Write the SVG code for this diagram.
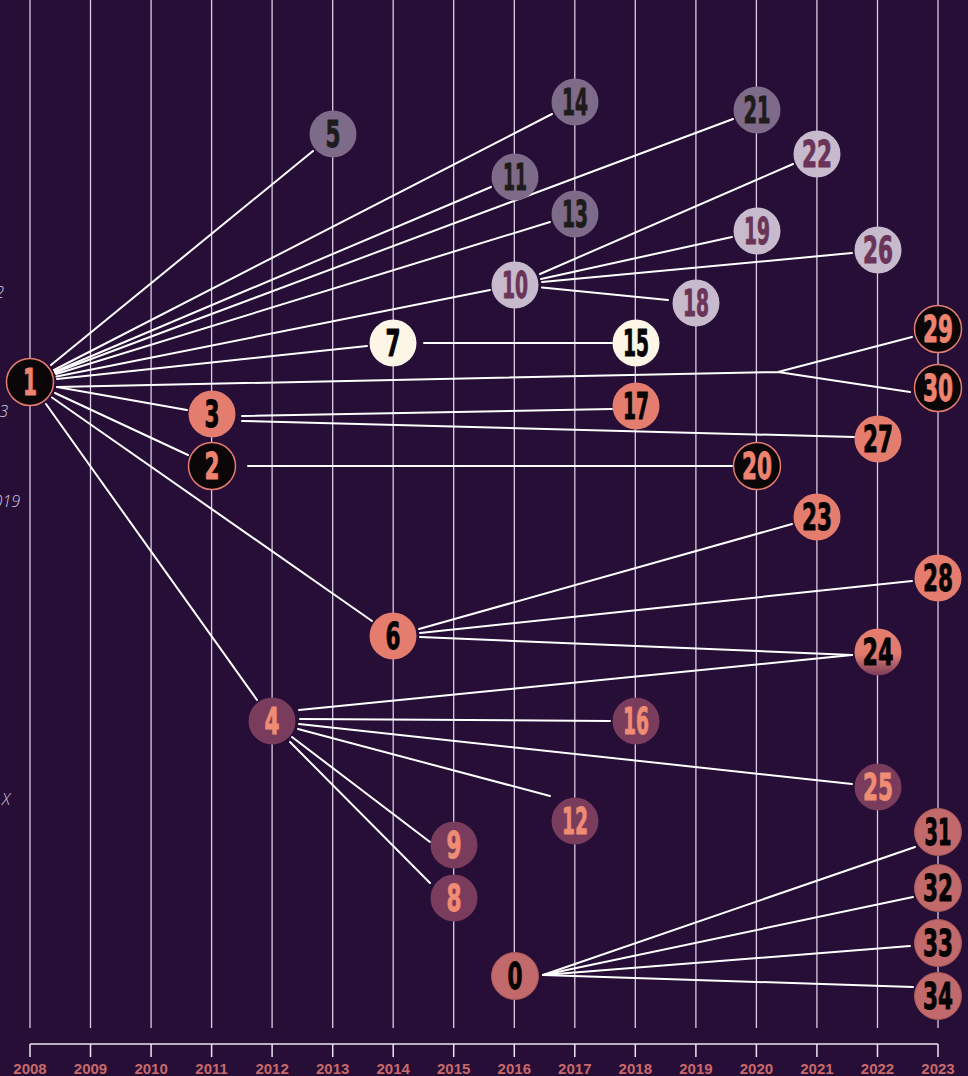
<svg xmlns="http://www.w3.org/2000/svg" width="968" height="1076" viewBox="0 0 968 1076">
<defs>
<linearGradient id="g24" x1="0" y1="0" x2="0" y2="1">
<stop offset="0" stop-color="#e57d6f"/>
<stop offset="0.55" stop-color="#e07a6d"/>
<stop offset="1" stop-color="#7a3c5c"/>
</linearGradient>
<style>
.grid line{stroke:#d9cde2;stroke-width:1.3}
.axis line{stroke:#ece4f0;stroke-width:1.5}
.axis text{fill:#c9696a;font-family:"Liberation Sans",Arial,sans-serif;font-weight:bold;font-size:15px;text-anchor:middle}
.side text{fill:#d6cade;font-family:"Open Sans","Liberation Sans",sans-serif;font-style:italic;font-weight:300;font-size:16px;text-anchor:end}
.edges path,.edges line{stroke:#ffffff;stroke-width:2;fill:none;stroke-linecap:round}
.node text{font-family:"DejaVu Sans Condensed","DejaVu Sans","Liberation Sans",sans-serif;font-weight:bold;font-size:37px;text-anchor:middle;stroke-width:0.9;stroke-linejoin:round}
.k circle{fill:#0b0708;stroke:#e57c6e;stroke-width:1.5}
.k text{fill:#ee8370;stroke:#ee8370}
.s circle{fill:#e57d6f}
.s text{fill:#050303;stroke:#050303}
.p circle{fill:#7a3c5c}
.p text{fill:#f08c74;stroke:#f08c74}
.g circle{fill:#7e6a89}
.g text{fill:#1e1b1b;stroke:#1e1b1b}
.l circle{fill:#c8bacd}
.l text{fill:#6a3358;stroke:#6a3358}
.c circle{fill:#fdf6e7}
.c text{fill:#050303;stroke:#050303}
.d circle{fill:#c1696b;stroke:#a85658;stroke-width:1}
.d text{fill:#050303;stroke:#050303}
</style>
</defs>
<rect width="968" height="1076" fill="#260e37"/>
<g class="grid">
<line x1="30" y1="0" x2="30" y2="1028"/>
<line x1="90.5" y1="0" x2="90.5" y2="1028"/>
<line x1="151.1" y1="0" x2="151.1" y2="1028"/>
<line x1="211.6" y1="0" x2="211.6" y2="1028"/>
<line x1="272.1" y1="0" x2="272.1" y2="1028"/>
<line x1="332.7" y1="0" x2="332.7" y2="1028"/>
<line x1="393.2" y1="0" x2="393.2" y2="1028"/>
<line x1="453.7" y1="0" x2="453.7" y2="1028"/>
<line x1="514.3" y1="0" x2="514.3" y2="1028"/>
<line x1="574.8" y1="0" x2="574.8" y2="1028"/>
<line x1="635.3" y1="0" x2="635.3" y2="1028"/>
<line x1="695.9" y1="0" x2="695.9" y2="1028"/>
<line x1="756.4" y1="0" x2="756.4" y2="1028"/>
<line x1="816.9" y1="0" x2="816.9" y2="1028"/>
<line x1="877.5" y1="0" x2="877.5" y2="1028"/>
<line x1="938" y1="0" x2="938" y2="1028"/>
</g>
<g class="axis">
<line x1="30" y1="1044" x2="938" y2="1044"/>
<line x1="30" y1="1044" x2="30" y2="1057"/>
<line x1="90.5" y1="1044" x2="90.5" y2="1057"/>
<line x1="151.1" y1="1044" x2="151.1" y2="1057"/>
<line x1="211.6" y1="1044" x2="211.6" y2="1057"/>
<line x1="272.1" y1="1044" x2="272.1" y2="1057"/>
<line x1="332.7" y1="1044" x2="332.7" y2="1057"/>
<line x1="393.2" y1="1044" x2="393.2" y2="1057"/>
<line x1="453.7" y1="1044" x2="453.7" y2="1057"/>
<line x1="514.3" y1="1044" x2="514.3" y2="1057"/>
<line x1="574.8" y1="1044" x2="574.8" y2="1057"/>
<line x1="635.3" y1="1044" x2="635.3" y2="1057"/>
<line x1="695.9" y1="1044" x2="695.9" y2="1057"/>
<line x1="756.4" y1="1044" x2="756.4" y2="1057"/>
<line x1="816.9" y1="1044" x2="816.9" y2="1057"/>
<line x1="877.5" y1="1044" x2="877.5" y2="1057"/>
<line x1="938" y1="1044" x2="938" y2="1057"/>
<text x="30" y="1074">2008</text>
<text x="90.5" y="1074">2009</text>
<text x="151.1" y="1074">2010</text>
<text x="211.6" y="1074">2011</text>
<text x="272.1" y="1074">2012</text>
<text x="332.7" y="1074">2013</text>
<text x="393.2" y="1074">2014</text>
<text x="453.7" y="1074">2015</text>
<text x="514.3" y="1074">2016</text>
<text x="574.8" y="1074">2017</text>
<text x="635.3" y="1074">2018</text>
<text x="695.9" y="1074">2019</text>
<text x="756.4" y="1074">2020</text>
<text x="816.9" y="1074">2021</text>
<text x="877.5" y="1074">2022</text>
<text x="938" y="1074">2023</text>
</g>
<g class="side">
<text x="4" y="298">2</text>
<text x="8" y="417">3</text>
<text x="20" y="507">019</text>
<text x="10" y="805">X</text>
</g>
<g class="edges">
<line x1="51" y1="365" x2="313" y2="151"/>
<line x1="54" y1="370" x2="552" y2="114"/>
<line x1="55" y1="371.5" x2="491" y2="187"/>
<line x1="55" y1="372.5" x2="733" y2="119"/>
<line x1="56" y1="374" x2="550" y2="222"/>
<line x1="56.5" y1="376.5" x2="490" y2="290"/>
<line x1="57" y1="379" x2="367" y2="346"/>
<path d="M57 387 L778 372 L912 337 M778 372 L910 392"/>
<line x1="57" y1="387" x2="187" y2="410"/>
<line x1="55" y1="393" x2="188" y2="455"/>
<line x1="52" y1="397.5" x2="372" y2="621"/>
<line x1="46" y1="404" x2="257" y2="700"/>
<line x1="242" y1="416" x2="612" y2="409"/>
<line x1="242" y1="421" x2="854" y2="437"/>
<line x1="248" y1="466" x2="732" y2="466"/>
<line x1="424" y1="343" x2="612" y2="343"/>
<line x1="540" y1="274" x2="793" y2="164"/>
<line x1="541" y1="279" x2="732" y2="237"/>
<line x1="542" y1="282" x2="852" y2="253"/>
<line x1="542" y1="287.5" x2="668" y2="300"/>
<line x1="419" y1="629" x2="792" y2="524"/>
<line x1="420" y1="633" x2="912" y2="581"/>
<line x1="420" y1="637" x2="852" y2="655"/>
<line x1="299" y1="710" x2="852" y2="655"/>
<line x1="300" y1="719" x2="610" y2="721"/>
<line x1="299" y1="724" x2="852" y2="784"/>
<line x1="298" y1="729" x2="550" y2="796"/>
<line x1="292" y1="737" x2="430" y2="842"/>
<line x1="290" y1="742" x2="430" y2="883"/>
<line x1="543" y1="975" x2="915" y2="847"/>
<line x1="543" y1="975" x2="913" y2="897"/>
<line x1="543" y1="975" x2="910" y2="946"/>
<line x1="543" y1="975" x2="913" y2="987"/>
</g>
<g id="n0" class="node d"><circle cx="515" cy="976" r="23.5"/><text x="515" y="989" textLength="15" lengthAdjust="spacingAndGlyphs">0</text></g>
<g id="n1" class="node k"><circle cx="30" cy="382" r="23.5"/><text x="30" y="395" textLength="14" lengthAdjust="spacingAndGlyphs">1</text></g>
<g id="n2" class="node k"><circle cx="212" cy="466" r="23.5"/><text x="212" y="479" textLength="15" lengthAdjust="spacingAndGlyphs">2</text></g>
<g id="n3" class="node s"><circle cx="212" cy="414" r="23.5"/><text x="212" y="427" textLength="15" lengthAdjust="spacingAndGlyphs">3</text></g>
<g id="n4" class="node p"><circle cx="272" cy="721" r="23.5"/><text x="272" y="734" textLength="15" lengthAdjust="spacingAndGlyphs">4</text></g>
<g id="n5" class="node g"><circle cx="333" cy="134" r="23.5"/><text x="333" y="147" textLength="15" lengthAdjust="spacingAndGlyphs">5</text></g>
<g id="n6" class="node s"><circle cx="393" cy="636" r="23.5"/><text x="393" y="649" textLength="15" lengthAdjust="spacingAndGlyphs">6</text></g>
<g id="n7" class="node c"><circle cx="393" cy="343" r="23.5"/><text x="393" y="356" textLength="15" lengthAdjust="spacingAndGlyphs">7</text></g>
<g id="n8" class="node p"><circle cx="454" cy="898" r="23.5"/><text x="454" y="911" textLength="15" lengthAdjust="spacingAndGlyphs">8</text></g>
<g id="n9" class="node p"><circle cx="454" cy="845" r="23.5"/><text x="454" y="858" textLength="15" lengthAdjust="spacingAndGlyphs">9</text></g>
<g id="n10" class="node l"><circle cx="515" cy="285" r="23.5"/><text x="515" y="298" textLength="26" lengthAdjust="spacingAndGlyphs">10</text></g>
<g id="n11" class="node g"><circle cx="515" cy="177" r="23.5"/><text x="515" y="190" textLength="24" lengthAdjust="spacingAndGlyphs">11</text></g>
<g id="n12" class="node p"><circle cx="575" cy="821" r="23.5"/><text x="575" y="834" textLength="26" lengthAdjust="spacingAndGlyphs">12</text></g>
<g id="n13" class="node g"><circle cx="575" cy="214" r="23.5"/><text x="575" y="227" textLength="26" lengthAdjust="spacingAndGlyphs">13</text></g>
<g id="n14" class="node g"><circle cx="575" cy="102" r="23.5"/><text x="575" y="115" textLength="26" lengthAdjust="spacingAndGlyphs">14</text></g>
<g id="n15" class="node c"><circle cx="636" cy="343" r="23.5"/><text x="636" y="356" textLength="26" lengthAdjust="spacingAndGlyphs">15</text></g>
<g id="n16" class="node p"><circle cx="636" cy="721" r="23.5"/><text x="636" y="734" textLength="26" lengthAdjust="spacingAndGlyphs">16</text></g>
<g id="n17" class="node s"><circle cx="636" cy="406" r="23.5"/><text x="636" y="419" textLength="26" lengthAdjust="spacingAndGlyphs">17</text></g>
<g id="n18" class="node l"><circle cx="696" cy="303" r="23.5"/><text x="696" y="316" textLength="26" lengthAdjust="spacingAndGlyphs">18</text></g>
<g id="n19" class="node l"><circle cx="757" cy="231" r="23.5"/><text x="757" y="244" textLength="26" lengthAdjust="spacingAndGlyphs">19</text></g>
<g id="n20" class="node k"><circle cx="757" cy="466" r="23.5"/><text x="757" y="479" textLength="30" lengthAdjust="spacingAndGlyphs">20</text></g>
<g id="n21" class="node g"><circle cx="757" cy="110" r="23.5"/><text x="757" y="123" textLength="27" lengthAdjust="spacingAndGlyphs">21</text></g>
<g id="n22" class="node l"><circle cx="817" cy="154" r="23.5"/><text x="817" y="167" textLength="30" lengthAdjust="spacingAndGlyphs">22</text></g>
<g id="n23" class="node s"><circle cx="817" cy="517" r="23.5"/><text x="817" y="530" textLength="30" lengthAdjust="spacingAndGlyphs">23</text></g>
<g id="n24" class="node s"><circle cx="878" cy="652" r="23.5" style="fill:url(#g24)"/><text x="878" y="665" textLength="31" lengthAdjust="spacingAndGlyphs">24</text></g>
<g id="n25" class="node p"><circle cx="878" cy="787" r="23.5"/><text x="878" y="800" textLength="30" lengthAdjust="spacingAndGlyphs">25</text></g>
<g id="n26" class="node l"><circle cx="878" cy="250" r="23.5"/><text x="878" y="263" textLength="30" lengthAdjust="spacingAndGlyphs">26</text></g>
<g id="n27" class="node s"><circle cx="878" cy="439" r="23.5"/><text x="878" y="452" textLength="30" lengthAdjust="spacingAndGlyphs">27</text></g>
<g id="n28" class="node s"><circle cx="938" cy="578" r="23.5"/><text x="938" y="591" textLength="30" lengthAdjust="spacingAndGlyphs">28</text></g>
<g id="n29" class="node k"><circle cx="938" cy="329" r="23.5"/><text x="938" y="342" textLength="30" lengthAdjust="spacingAndGlyphs">29</text></g>
<g id="n30" class="node k"><circle cx="938" cy="388" r="23.5"/><text x="938" y="401" textLength="30" lengthAdjust="spacingAndGlyphs">30</text></g>
<g id="n31" class="node d"><circle cx="938" cy="832" r="23.5"/><text x="938" y="845" textLength="27" lengthAdjust="spacingAndGlyphs">31</text></g>
<g id="n32" class="node d"><circle cx="938" cy="888" r="23.5"/><text x="938" y="901" textLength="30" lengthAdjust="spacingAndGlyphs">32</text></g>
<g id="n33" class="node d"><circle cx="938" cy="943" r="23.5"/><text x="938" y="956" textLength="30" lengthAdjust="spacingAndGlyphs">33</text></g>
<g id="n34" class="node d"><circle cx="938" cy="996" r="23.5"/><text x="938" y="1009" textLength="30" lengthAdjust="spacingAndGlyphs">34</text></g>
</svg>
